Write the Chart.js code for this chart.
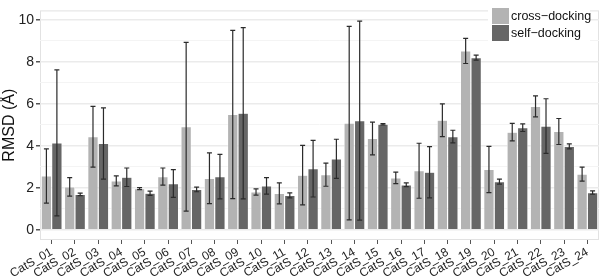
<!DOCTYPE html>
<html>
<head>
<meta charset="utf-8">
<script src="https://cdn.jsdelivr.net/npm/chart.js@4.4.1/dist/chart.umd.min.js"></script>
<style>
  html, body { margin: 0; padding: 0; background: #fff; }
  #wrap { width: 600px; height: 276px; }
</style>
</head>
<body>
<div id="wrap"><canvas id="grafik"></canvas></div>
<script>
// ===== data =====
const categories = ["CatS_01","CatS_02","CatS_03","CatS_04","CatS_05","CatS_06","CatS_07","CatS_08",
  "CatS_09","CatS_10","CatS_11","CatS_12","CatS_13","CatS_14","CatS_15","CatS_16",
  "CatS_17","CatS_18","CatS_19","CatS_20","CatS_21","CatS_22","CatS_23","CatS_24"];

const crossMean = [2.56, 2.04, 4.43, 2.33, 1.96, 2.53, 4.91, 2.45, 5.49, 1.80, 1.73, 2.60,
  2.62, 5.08, 4.35, 2.47, 2.81, 5.22, 8.52, 2.87, 4.65, 5.88, 4.68, 2.65];
const crossSD = [1.29, 0.44, 1.45, 0.24, 0.05, 0.41, 4.02, 1.21, 4.01, 0.15, 0.50, 1.42,
  0.55, 4.61, 0.78, 0.27, 1.31, 0.78, 0.60, 1.10, 0.42, 0.50, 0.62, 0.33];

const selfMean = [4.14, 1.68, 4.11, 2.50, 1.74, 2.20, 1.92, 2.53, 5.55, 2.09, 1.64, 2.91,
  3.38, 5.20, 5.03, 2.14, 2.74, 4.44, 8.20, 2.29, 4.86, 4.94, 3.97, 1.77];
const selfSD = [3.48, 0.06, 1.70, 0.44, 0.10, 0.66, 0.11, 1.06, 4.08, 0.39, 0.12, 1.35,
  0.93, 4.74, 0.03, 0.09, 1.22, 0.30, 0.12, 0.12, 0.18, 1.30, 0.12, 0.08];

const yTicks = [0, 1, 2, 3, 4, 5, 6, 7, 8, 9, 10];

const FONT = "'Liberation Sans', Arial, sans-serif";

// ===== plugins =====
const errorBars = {
  id: "errorBars",
  afterDatasetsDraw(chart) {
    const ctx = chart.ctx;
    const y = chart.scales.y;
    ctx.save();
    ctx.strokeStyle = "#2b2b2b";
    ctx.lineWidth = 1.2;
    chart.data.datasets.forEach((ds, di) => {
      const meta = chart.getDatasetMeta(di);
      meta.data.forEach((bar, i) => {
        const hi = y.getPixelForValue(ds.data[i] + ds.sd[i]);
        const lo = y.getPixelForValue(ds.data[i] - ds.sd[i]);
        const x = bar.x, cap = 2.5;
        ctx.beginPath();
        ctx.moveTo(x, hi); ctx.lineTo(x, lo);
        ctx.moveTo(x - cap, hi); ctx.lineTo(x + cap, hi);
        ctx.moveTo(x - cap, lo); ctx.lineTo(x + cap, lo);
        ctx.stroke();
      });
    });
    ctx.restore();
  }
};

const panel = {
  id: "panel",
  beforeDraw(chart) {
    const a = chart.chartArea, ctx = chart.ctx;
    ctx.save();
    ctx.strokeStyle = "#e2e2e2";
    ctx.lineWidth = 1;
    ctx.strokeRect(a.left + 0.5, a.top + 0.5, a.right - a.left - 1, a.bottom - a.top - 1);
    ctx.restore();
  },
  // legend drawn inside the panel, top right
  afterDraw(chart) {
    const ctx = chart.ctx;
    const x0 = 492, y0 = 8, sw = 17;
    ctx.save();
    ctx.fillStyle = "#fff";
    ctx.fillRect(x0 - 4, y0 - 4, 102, sw * 2 + 8);
    ctx.font = "12.5px " + FONT;
    ctx.textBaseline = "middle";
    chart.data.datasets.forEach((ds, i) => {
      ctx.fillStyle = ds.backgroundColor;
      ctx.fillRect(x0, y0 + i * sw, sw, sw - 1);
      ctx.fillStyle = "#111";
      ctx.fillText(ds.label, x0 + sw + 2, y0 + i * sw + sw / 2);
    });
    ctx.restore();
  }
};

// ===== chart =====
new Chart(document.getElementById("grafik"), {
  type: "bar",
  data: {
    labels: categories,
    datasets: [
      { label: "cross\u2212docking", data: crossMean, sd: crossSD, backgroundColor: "#b3b3b3",
        borderColor: "#ffffff", borderWidth: 0.6, categoryPercentage: 0.9, barPercentage: 1.0 },
      { label: "self\u2212docking", data: selfMean, sd: selfSD, backgroundColor: "#666666",
        borderColor: "#ffffff", borderWidth: 0.6, categoryPercentage: 0.9, barPercentage: 1.0 }
    ]
  },
  options: {
    responsive: true,
    maintainAspectRatio: false,
    animation: false,
    layout: { padding: { top: 0, right: 1, bottom: 0, left: 0 } },
    plugins: { legend: { display: false }, tooltip: { enabled: false } },
    scales: {
      x: {
        offset: true,
        grid: { drawOnChartArea: false, tickLength: 4, tickColor: "#555", offset: false },
        border: { display: false },
        ticks: {
          autoSkip: false, minRotation: 30, maxRotation: 30, padding: 1,
          color: "#222", font: { family: FONT, size: 12 }
        },
        afterFit(s) { s.height = 36; }
      },
      y: {
        min: -0.49, max: 10.45,
        afterBuildTicks(s) { s.ticks = yTicks.map(v => ({ value: v })); },
        grid: {
          color: c => (c.tick && c.tick.value % 2 === 0) ? "#ebebeb" : "#f4f4f4",
          lineWidth: c => (c.tick && c.tick.value % 2 === 0) ? 1.5 : 1,
          tickColor: c => (c.tick && c.tick.value % 2 === 0) ? "#555" : "rgba(0,0,0,0)",
          tickLength: 4
        },
        border: { display: false },
        ticks: {
          padding: 2, color: "#222", font: { family: FONT, size: 14 },
          callback: v => v % 2 === 0 ? String(v) : ""
        },
        title: { display: true, text: "RMSD (Å)", color: "#111",
          font: { family: FONT, size: 16 }, padding: { top: 0, bottom: 2 } },
        afterFit(s) { s.width = 40; }
      }
    }
  },
  plugins: [panel, errorBars]
});
</script>
</body>
</html>
